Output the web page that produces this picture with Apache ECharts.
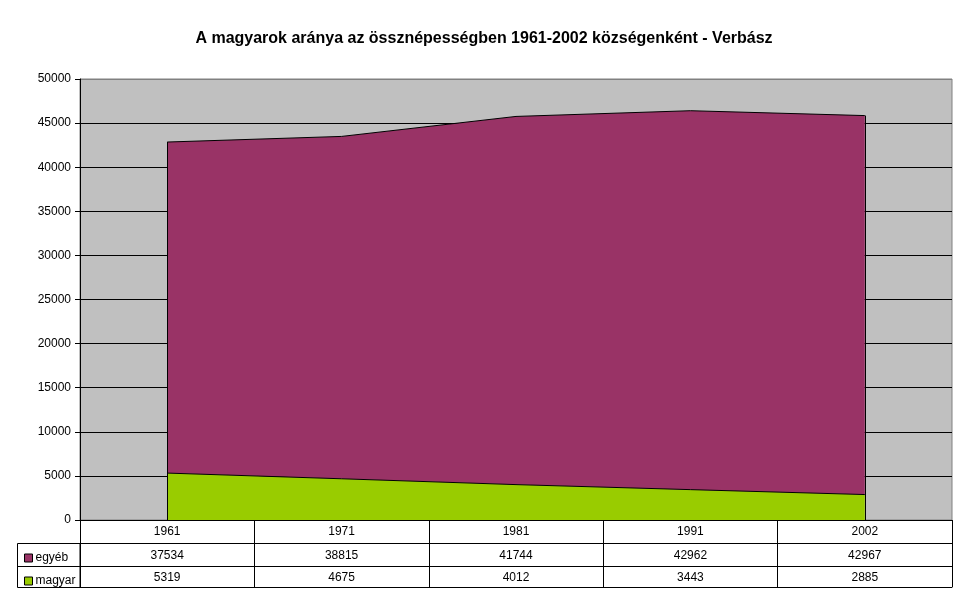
<!DOCTYPE html>
<html>
<head>
<meta charset="utf-8">
<script src="https://cdn.jsdelivr.net/npm/echarts@6/dist/echarts.min.js"></script>
<style>
  html, body { margin: 0; padding: 0; background: #fff; }
  #main { width: 968px; height: 604px; }
</style>
</head>
<body>
<div id="main"></div>
<script>
// adatok
var evek = ['1961', '1971', '1981', '1991', '2002'];
var egyeb = [37534, 38815, 41744, 42962, 42967];
var magyar = [5319, 4675, 4012, 3443, 2885];
var yTicks = { min: 0, max: 50000, step: 5000 };

var FONT = 'Liberation Sans, Arial, sans-serif';
var osszes = evek.map(function (e, i) { return egyeb[i] + magyar[i]; });

// racsvonalak: fekete, a legfelso szurke (a keret szine)
var gridColors = [];
for (var v = yTicks.min; v <= yTicks.max; v += yTicks.step) {
    gridColors.push(v === yTicks.max ? '#808080' : '#000');
}

function tableAxis(offset, tickLen, labels, margin) {
    return {
        type: 'category',
        data: evek,
        position: 'bottom',
        offset: offset,
        boundaryGap: true,
        axisLine: { show: true, lineStyle: { color: '#000', width: 1 } },
        axisTick: { show: tickLen > 0, length: tickLen, lineStyle: { color: '#000' } },
        axisLabel: {
            show: !!labels,
            margin: margin || 6,
            color: '#000',
            fontFamily: FONT,
            fontSize: 12,
            formatter: function (v, i) { return labels ? String(labels[i]) : ''; }
        },
        splitLine: { show: false }
    };
}

var chart = echarts.init(document.getElementById('main'), null, { renderer: 'canvas' });
chart.setOption({
    animation: false,
    backgroundColor: '#fff',
    title: {
        text: 'A magyarok aránya az össznépességben 1961-2002 községenként - Verbász',
        left: 'center',
        top: 26,
        textStyle: { fontFamily: FONT, fontSize: 16, fontWeight: 'bold', color: '#000' }
    },
    legend: {
        orient: 'vertical',
        left: 19,
        top: 547,
        data: ['egyéb', 'magyar'],
        icon: 'rect',
        itemWidth: 8,
        itemHeight: 8,
        itemGap: 11,
        itemStyle: { borderColor: '#000', borderWidth: 1 },
        textStyle: { fontFamily: FONT, fontSize: 12, color: '#000', padding: [0, 0, 0, -2] },
        selectedMode: false
    },
    grid: {
        left: 80, right: 16, top: 79, bottom: 84,
        show: true,
        backgroundColor: '#C0C0C0',
        borderColor: '#808080',
        borderWidth: 1
    },
    xAxis: [
        tableAxis(0, 23, evek, 6),
        tableAxis(23, 23, egyeb, 7),
        tableAxis(46, 21, magyar, 6),
        tableAxis(67, 0, null)
    ],
    yAxis: {
        type: 'value',
        min: yTicks.min,
        max: yTicks.max,
        interval: yTicks.step,
        axisLine: { show: true, lineStyle: { color: '#000' } },
        axisTick: { show: true, length: 5, lineStyle: { color: '#000' } },
        axisLabel: {
            color: '#000', fontFamily: FONT, fontSize: 12, margin: 9,
            formatter: function (v) { return String(v); }
        },
        splitLine: { show: true, lineStyle: { color: gridColors, width: 1 } }
    },
    series: [
        {
            name: 'magyar',
            type: 'line',
            stack: 'nep',
            data: magyar,
            symbol: 'none',
            color: '#99CC00',
            lineStyle: { color: '#000', width: 1 },
            areaStyle: { color: '#99CC00', opacity: 1 }
        },
        {
            name: 'egyéb',
            type: 'line',
            stack: 'nep',
            data: egyeb,
            symbol: 'none',
            color: '#993366',
            lineStyle: { color: '#000', width: 1 },
            areaStyle: { color: '#993366', opacity: 1 },
            markLine: {
                silent: true,
                symbol: 'none',
                label: { show: false },
                lineStyle: { color: '#000', width: 1, type: 'solid' },
                data: [
                    [{ coord: [evek[0], 0] }, { coord: [evek[0], osszes[0]] }],
                    [{ coord: [evek[evek.length - 1], 0] }, { coord: [evek[evek.length - 1], osszes[osszes.length - 1]] }]
                ]
            }
        }
    ],
    graphic: [
        {
            type: 'rect',
            shape: { x: 17.5, y: 543.5, width: 62.5, height: 44 },
            style: { fill: 'none', stroke: '#000', lineWidth: 1 },
            silent: true
        },
        {
            type: 'line',
            shape: { x1: 17.5, y1: 566.5, x2: 80, y2: 566.5 },
            style: { stroke: '#000', lineWidth: 1 },
            silent: true
        }
    ]
});
</script>
</body>
</html>
